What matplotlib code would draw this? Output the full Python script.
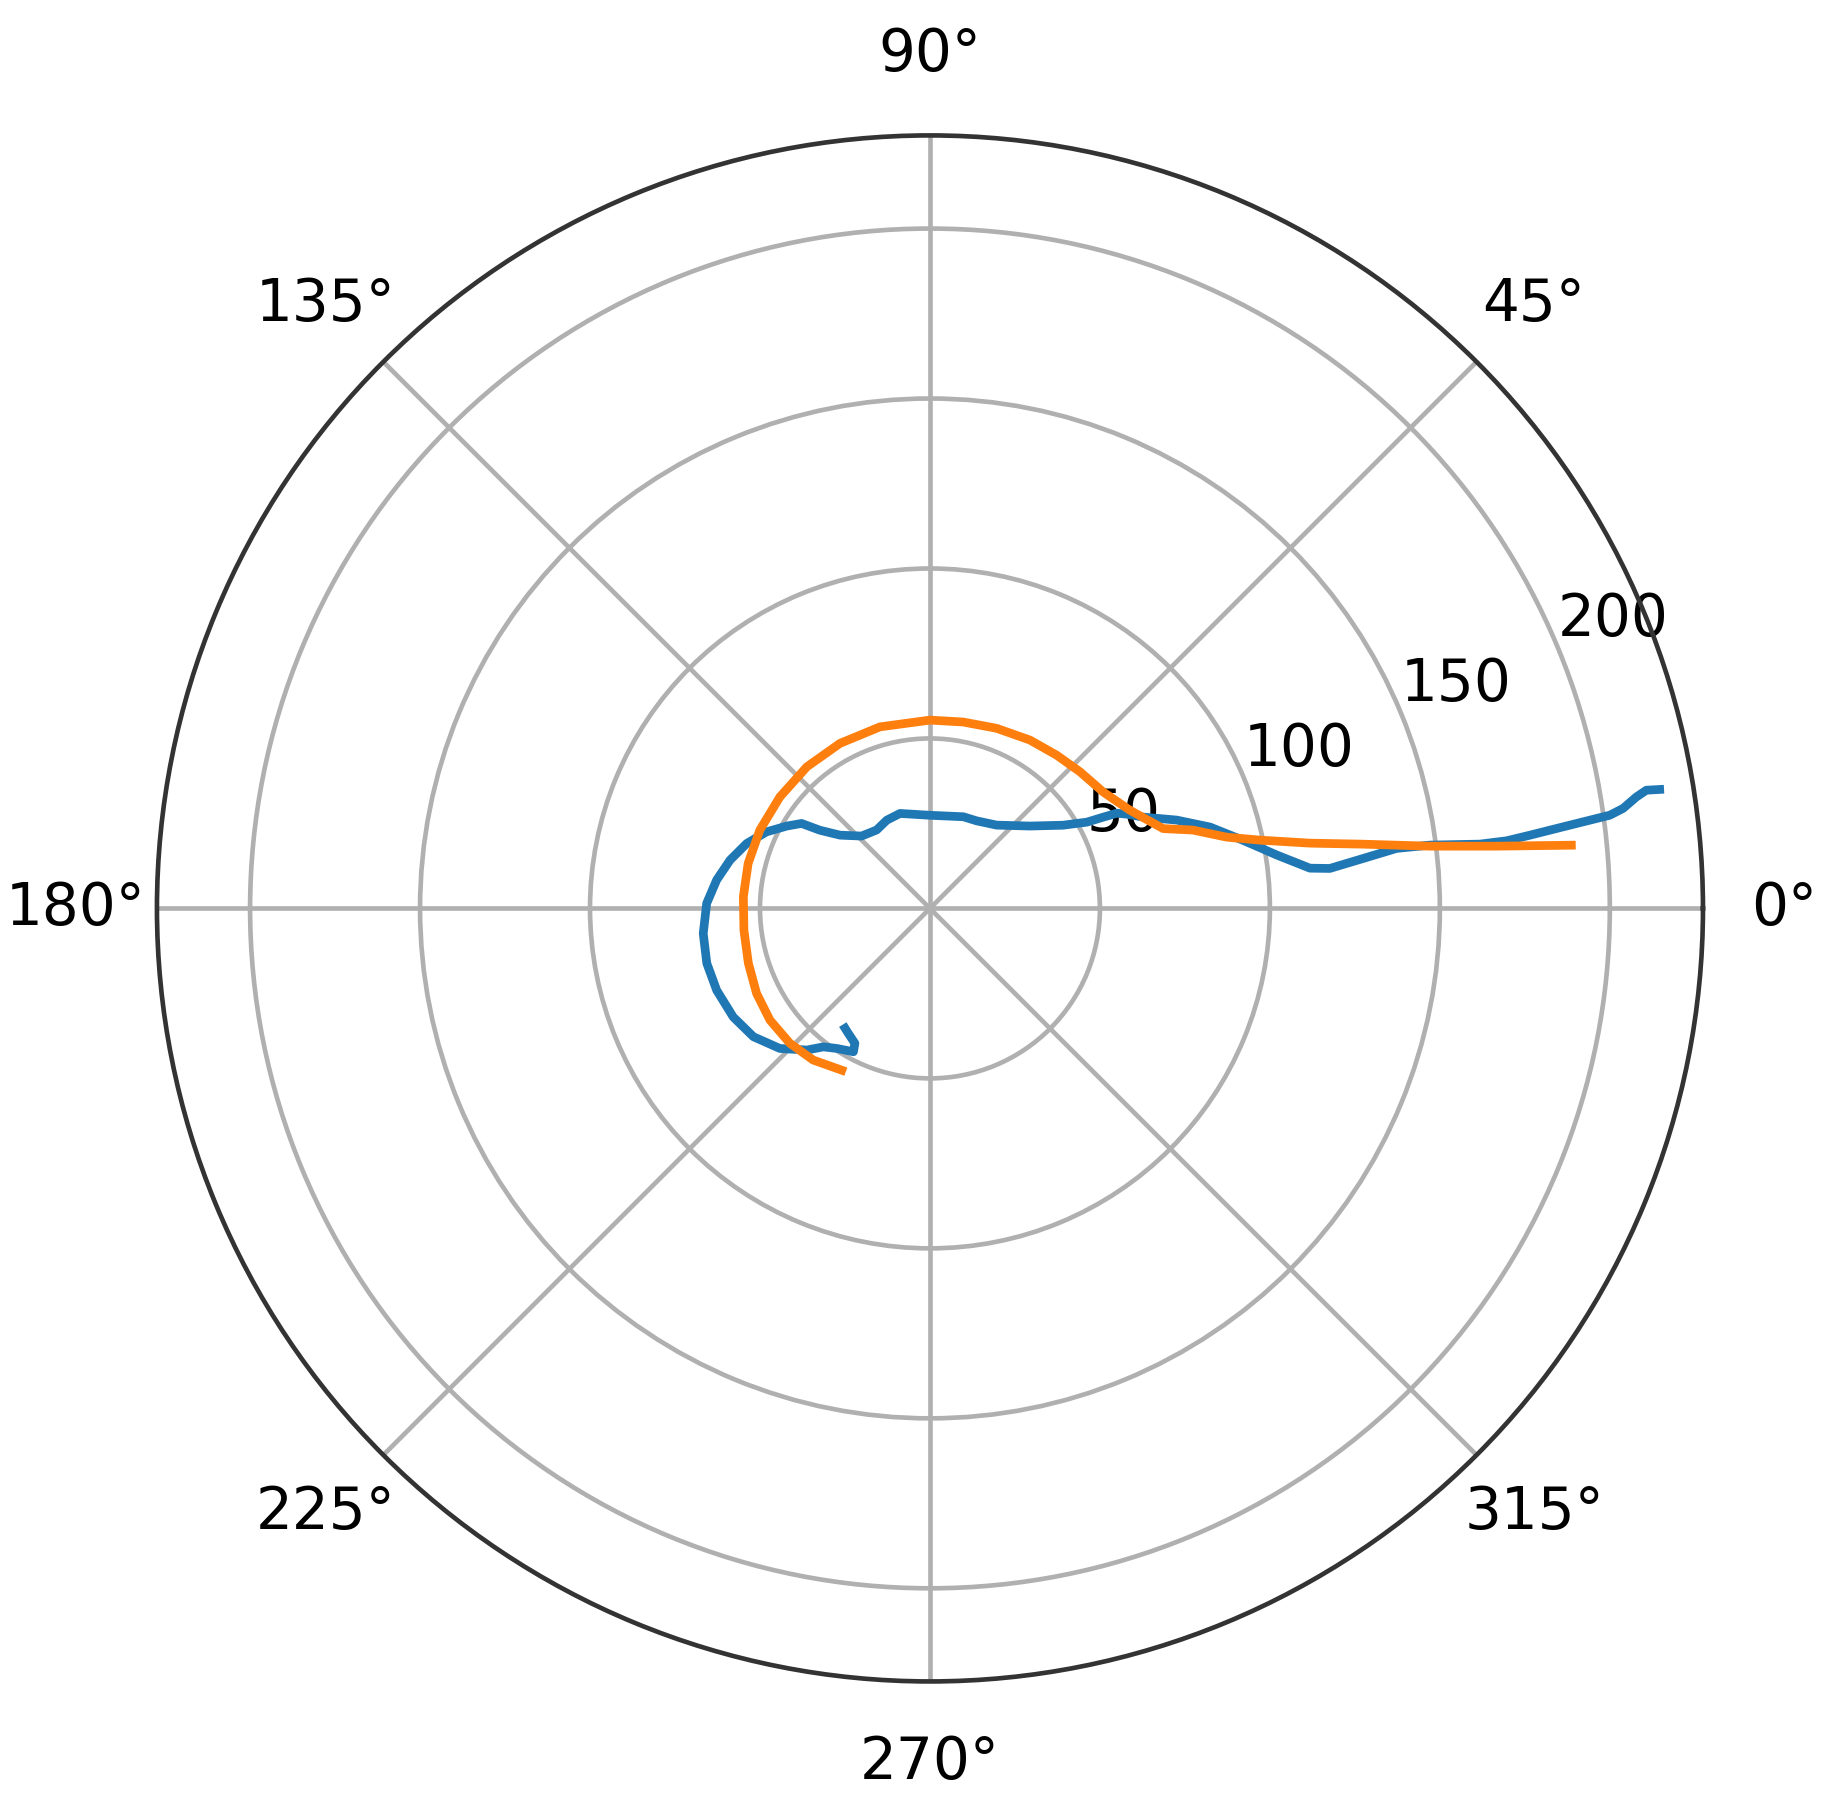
import numpy as np
import matplotlib
matplotlib.use("Agg")
import matplotlib.pyplot as plt

# blue trace: angle (deg) and radius, from the outer tip inwards
blue_theta = [9.26, 9.37, 8.97, 8.21, 7.81, 7.55, 7.27, 6.96, 6.69, 6.67,
              7.22, 7.33, 6.58, 5.71, 6.05, 8.73, 12.3, 16.2, 19.7, 23.2,
              25.6, 27.0, 27.8, 28.8, 32.0, 39.5, 51.3, 61.9, 70.0, 90.0,
              107.5, 116.1, 124.2, 133.4, 140.8, 144.6, 146.5, 150.1, 154.9, 160.5,
              166.4, 172.4, 178.7, 186.3, 193.8, 201.0, 208.9, 216.0, 223.0, 229.0,
              232.4, 236.3, 241.9, 240.9, 236.8, 234.7]
blue_r = [217.5, 213.6, 210.4, 206.0, 201.9, 193.8, 185.8, 177.8, 170.8, 162.9,
          148.2, 138.4, 128.3, 118.2, 112.4, 103.3, 94.2, 85.8, 77.1, 68.2,
          64.2, 61.7, 57.5, 52.7, 46.2, 38.1, 31.4, 29.2, 28.7, 27.4,
          29.3, 28.9, 27.9, 29.3, 34.1, 39.7, 45.3, 48.6, 53.1, 57.2,
          60.5, 63.3, 65.7, 67.1, 67.6, 67.2, 66.1, 64.2, 60.4, 55.2,
          51.4, 49.5, 47.8, 45.4, 43.9, 43.2]

# orange trace
orange_theta = [5.63, 6.27, 7.10, 8.44, 9.75, 11.7, 13.5, 16.6, 18.9, 26.2,
                33.9, 42.3, 50.4, 59.3, 69.7, 79.9, 90.0, 105.4, 118.6, 131.0,
                143.4, 155.3, 166.1, 176.4, 186.7, 196.8, 206.1, 214.9, 223.9, 232.4,
                241.4]
orange_r = [189.6, 167.7, 148.2, 128.8, 113.4, 99.1, 89.8, 80.7, 72.5, 65.5,
            61.4, 59.7, 58.5, 57.6, 56.5, 55.7, 55.4, 55.4, 55.3, 55.2,
            55.0, 55.1, 55.1, 55.0, 55.1, 55.8, 56.8, 57.4, 57.2, 56.3,
            54.2]

r_ticks = [50, 100, 150, 200]
r_max = 227.4

dpi = 418
fig = plt.figure(figsize=(1829 / dpi, 1808 / dpi), dpi=dpi)
ax = fig.add_axes([0.0858, 0.070, 0.8453, 0.8551], projection="polar")

ax.plot(np.deg2rad(blue_theta), blue_r, color="#1f77b4", lw=1.5)
ax.plot(np.deg2rad(orange_theta), orange_r, color="#ff7f0e", lw=1.5)

ax.set_ylim(0, r_max)
ax.set_rticks(r_ticks)
ax.tick_params(labelsize=10)
ax.spines["polar"].set_color("#333333")
ax.grid(True)

fig.savefig("out.png", dpi=dpi)
